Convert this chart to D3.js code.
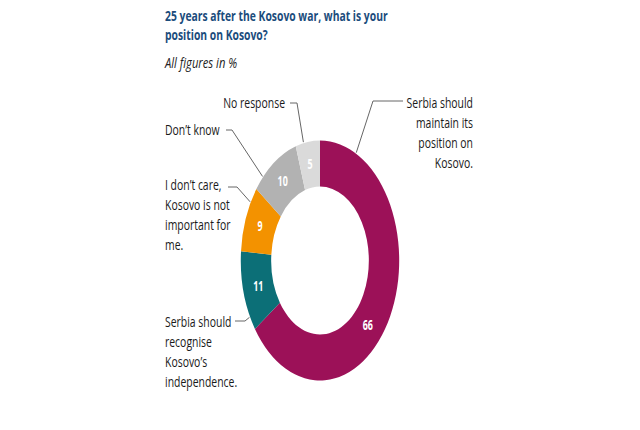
<!DOCTYPE html>
<html>
<head>
<meta charset="utf-8">
<script src="https://cdn.jsdelivr.net/npm/d3@7"></script>
<style>
  html, body { margin: 0; padding: 0; background: #fff; }
  svg { display: block; font-family: "Open Sans", "Noto Sans", sans-serif; }
</style>
</head>
<body>
<div id="chart"></div>
<script>
// data
var categories = [
  "Serbia should maintain its position on Kosovo.",
  "Serbia should recognise Kosovo’s independence.",
  "I don’t care, Kosovo is not important for me.",
  "Don’t know",
  "No response"
];
var values = [66, 11, 9, 10, 5];
var colors = ["#9c1158", "#0c6f77", "#f39200", "#b2b2b2", "#dadada"];
var labelLines = [
  ["Serbia should", "maintain its", "position on", "Kosovo."],
  ["Serbia should", "recognise", "Kosovo’s", "independence."],
  ["I don’t care,", "Kosovo is not", "important for", "me."],
  ["Don’t know"],
  ["No response"]
];

var width = 640, height = 430;
var sx = 0.66;      // the donut is squeezed horizontally
var sxLabel = 0.72; // text squeeze
var cx = 320, cy = 260.5;
var outerR = 120, innerR = 74;

// label layout in screen px
var labelLayout = [
  {x: 473, y: 108, anchor: "end",   lineFrom: 403, elbow: 373, ly: 101, ang: 27},
  {x: 165, y: 327, anchor: "start", lineFrom: 235, elbow: 245, ly: 321, ang: 242},
  {x: 165, y: 190, anchor: "start", lineFrom: 228, elbow: 237, ly: 187, ang: 299},
  {x: 165, y: 135, anchor: "start", lineFrom: 226, elbow: 232, ly: 130, ang: 314},
  {x: 285, y: 108, anchor: "end",   lineFrom: 290, elbow: 297, ly: 103, ang: 348}
];
var valueAngleShift = [14, 0, 0, 0, 0];

var svg = d3.select("#chart").append("svg")
  .attr("width", width)
  .attr("height", height);

function squeezed(x, y, s) {
  return svg.append("g").attr("transform", "translate(" + x + "," + y + ") scale(" + s + ",1)");
}

// title
squeezed(165, 20.5, 0.69).append("text")
  .attr("fill", "#1b4c7c").attr("font-weight", "bold").attr("font-size", 15)
  .text("25 years after the Kosovo war, what is your");
squeezed(165, 40, 0.69).append("text")
  .attr("fill", "#1b4c7c").attr("font-weight", "bold").attr("font-size", 15)
  .text("position on Kosovo?");
squeezed(165, 68, 0.8).append("text")
  .attr("fill", "#222").attr("font-style", "italic").attr("font-size", 14)
  .text("All figures in %");

var pie = d3.pie().sort(null).value(function(d) { return d; });
var arcs = pie(values);
var arc = d3.arc().innerRadius(innerR).outerRadius(outerR);

var donut = svg.append("g")
  .attr("transform", "translate(" + cx + "," + cy + ") scale(" + sx + ",1)");

donut.selectAll("path.slice")
  .data(arcs)
  .enter().append("path")
  .attr("class", "slice")
  .attr("d", arc)
  .attr("fill", function(d, i) { return colors[i]; });

var midR = (innerR + outerR) / 2;
donut.selectAll("text.val")
  .data(arcs)
  .enter().append("text")
  .attr("class", "val")
  .attr("x", function(d, i) {
    var a = (d.startAngle + d.endAngle) / 2 + valueAngleShift[i] * Math.PI / 180;
    return midR * Math.sin(a);
  })
  .attr("y", function(d, i) {
    var a = (d.startAngle + d.endAngle) / 2 + valueAngleShift[i] * Math.PI / 180;
    return -midR * Math.cos(a);
  })
  .attr("dy", "0.35em")
  .attr("text-anchor", "middle")
  .attr("fill", "#fff")
  .attr("font-weight", "bold")
  .attr("font-size", 13.5)
  .text(function(d) { return d.data; });

// leader lines and category labels
labelLayout.forEach(function(l, i) {
  var a = l.ang * Math.PI / 180;
  var ex = cx + (outerR + 1) * sx * Math.sin(a);
  var ey = cy - (outerR + 1) * Math.cos(a);
  svg.append("path")
    .attr("d", d3.line()([[l.lineFrom, l.ly], [l.elbow, l.ly], [ex, ey]]))
    .attr("fill", "none")
    .attr("stroke", "#666")
    .attr("stroke-width", 1);

  var t = squeezed(l.x, l.y, sxLabel).append("text")
    .attr("text-anchor", l.anchor)
    .attr("fill", "#1a1a1a")
    .attr("font-size", 14.5);
  t.selectAll("tspan")
    .data(labelLines[i])
    .enter().append("tspan")
    .attr("x", 0)
    .attr("dy", function(d, j) { return j === 0 ? 0 : 20; })
    .text(function(d) { return d; });
});
</script>
</body>
</html>
